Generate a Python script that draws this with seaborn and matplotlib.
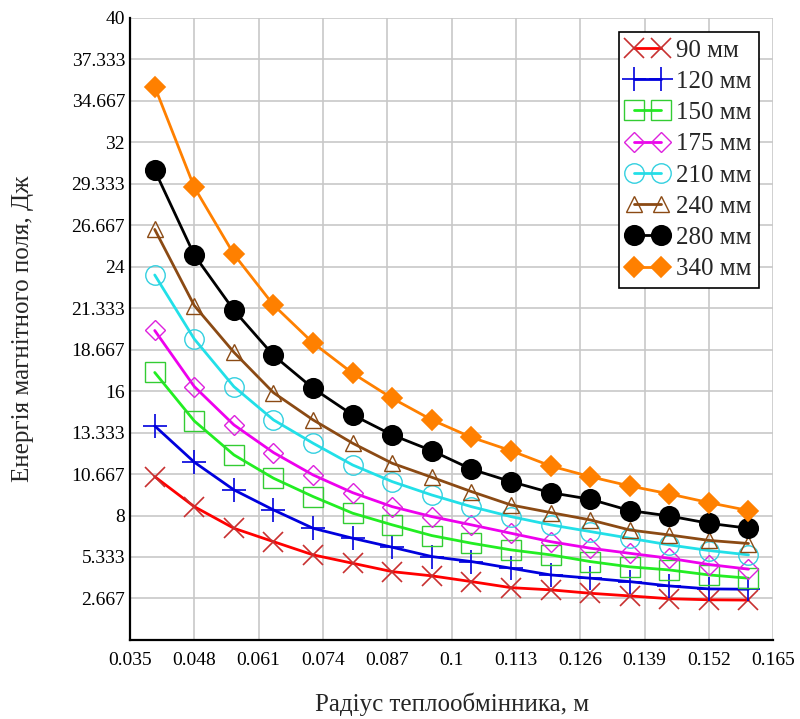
import numpy as np
import seaborn as sns
import matplotlib.pyplot as plt

sns.set_style("whitegrid", {"grid.color": "#c8c8c8", "axes.edgecolor": "black"})
plt.rcParams['font.family'] = ['Liberation Serif', 'DejaVu Serif']

# радіус теплообмінника, м
radius = [0.040, 0.048, 0.056, 0.064, 0.072, 0.080, 0.088, 0.096,
          0.104, 0.112, 0.120, 0.128, 0.136, 0.144, 0.152, 0.160]

# енергія магнітного поля, Дж
e_90 = [10.5, 8.57, 7.18, 6.32, 5.47, 4.93, 4.39, 4.12,
        3.75, 3.36, 3.22, 3.0, 2.83, 2.65, 2.58, 2.56]
e_120 = [13.76, 11.43, 9.65, 8.36, 7.18, 6.54, 5.96, 5.36,
         5.04, 4.61, 4.18, 3.97, 3.75, 3.47, 3.28, 3.26]
e_150 = [17.2, 14.08, 11.9, 10.4, 9.22, 8.15, 7.4, 6.71,
         6.22, 5.79, 5.47, 5.04, 4.7, 4.5, 4.18, 3.97]
e_175 = [19.9, 16.29, 13.83, 12.05, 10.61, 9.47, 8.57, 7.93,
         7.4, 6.86, 6.32, 5.9, 5.57, 5.25, 4.85, 4.55]
e_210 = [23.47, 19.35, 16.29, 14.15, 12.65, 11.25, 10.18, 9.32,
         8.57, 7.93, 7.4, 6.97, 6.54, 6.11, 5.75, 5.47]
e_240 = [26.4, 21.5, 18.5, 15.9, 14.15, 12.65, 11.36, 10.46,
         9.54, 8.68, 8.19, 7.72, 7.07, 6.75, 6.4, 6.2]
e_280 = [30.2, 24.75, 21.2, 18.3, 16.18, 14.47, 13.18, 12.17,
         10.98, 10.18, 9.47, 9.05, 8.32, 7.97, 7.5, 7.18]
e_340 = [35.58, 29.11, 24.8, 21.54, 19.1, 17.15, 15.54, 14.15,
         13.03, 12.17, 11.19, 10.5, 9.9, 9.39, 8.83, 8.32]

labels = ["90 мм", "120 мм", "150 мм", "175 мм", "210 мм", "240 мм", "280 мм", "340 мм"]
series = [e_90, e_120, e_150, e_175, e_210, e_240, e_280, e_340]
colors = ["#ff0000", "#0000dd", "#22ee22", "#ee00ee", "#22e0e8", "#8b4a14", "#000000", "#ff8000"]
edge_colors = ["#c83030", "#0000dd", "#33cc33", "#dd22dd", "#33d0e0", "#8b4a14", "#000000", "#ff8000"]
markers = ["x", "+", "s", "D", "o", "^", "o", "D"]
msizes = [14, 17, 14, 10, 14, 12, 14, 10]
filled = [True, True, False, False, False, False, True, True]

xticks = [0.035, 0.048, 0.061, 0.074, 0.087, 0.1, 0.113, 0.126, 0.139, 0.152, 0.165]
xticklabels = ["0.035", "0.048", "0.061", "0.074", "0.087", "0.1", "0.113", "0.126", "0.139", "0.152", "0.165"]
yticks = [0, 2.667, 5.333, 8, 10.667, 13.333, 16, 18.667, 21.333, 24, 26.667, 29.333, 32, 34.667, 37.333, 40]
yticklabels = ["", "2.667", "5.333", "8", "10.667", "13.333", "16", "18.667", "21.333", "24",
               "26.667", "29.333", "32", "34.667", "37.333", "40"]

fig = plt.figure(figsize=(8, 7.19), dpi=100)
ax = fig.add_axes([0.1625, 0.11, 0.804, 0.865])

for vals, lab, c, ec, m, ms, f in zip(series, labels, colors, edge_colors, markers, msizes, filled):
    sns.lineplot(x=radius, y=vals, ax=ax, color=c, lw=2.0, marker=m, markersize=ms,
                 markerfacecolor=c if f else "none", markeredgecolor=ec,
                 markeredgewidth=1.0 if not f else 1.2, label=lab)

ax.set_xlim(0.035, 0.165)
ax.set_ylim(0, 40)
ax.set_xticks(xticks)
ax.set_xticklabels(xticklabels, fontsize=14)
ax.set_yticks(yticks)
ax.set_yticklabels(yticklabels, fontsize=14)
ax.tick_params(axis="both", direction="inout", length=9, width=1.2, colors="black")
ax.tick_params(axis="y", pad=-1)
ax.tick_params(axis="x", pad=4)
ax.grid(True, color="#c8c8c8", lw=1.2)
for s in ["top", "right"]:
    ax.spines[s].set_visible(False)
for s in ["left", "bottom"]:
    ax.spines[s].set_color("black")
    ax.spines[s].set_linewidth(1.6)

ax.set_xlabel("Радіус теплообмінника, м", fontsize=18)
ax.set_ylabel("Енергія магнітного поля, Дж", fontsize=18)
ax.xaxis.set_label_coords(0.5, -0.085)
ax.yaxis.set_label_coords(-0.150, 0.5)

leg = ax.legend(loc="upper right", bbox_to_anchor=(0.978, 0.978), borderaxespad=0,
                fontsize=18, numpoints=2, handlelength=1.7, handletextpad=0.3,
                labelspacing=0.35, borderpad=0.3, fancybox=False, framealpha=1)
leg.get_frame().set_edgecolor("black")
leg.get_frame().set_linewidth(1.2)

fig.savefig("out.png", dpi=100)
